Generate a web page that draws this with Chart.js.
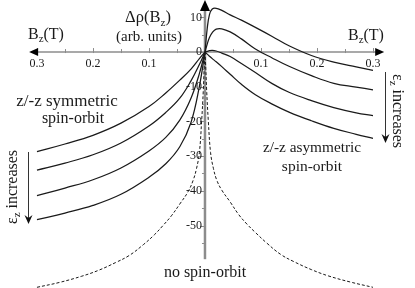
<!DOCTYPE html>
<html>
<head>
<meta charset="utf-8">
<script src="https://cdn.jsdelivr.net/npm/chart.js@4.4.1/dist/chart.umd.min.js"></script>
<style>
  html, body { margin: 0; padding: 0; background: #fff; }
  #wrap { width: 415px; height: 288px; }
</style>
</head>
<body>
<div id="wrap"><canvas id="chart" width="415" height="288"></canvas></div>
<script>
// B_z (T): left half plotted at negative x, labelled with |B|
// z/-z symmetric spin-orbit (left family)
const symB = [-0.3, -0.25, -0.2, -0.15, -0.1, -0.07, -0.045, -0.025, -0.01, 0];
const sym1 = [-28.7, -26.5, -24.0, -20.5, -15.7, -11.8, -8.1, -4.9, -1.9, 0];
const sym2 = [-34.0, -32.0, -29.6, -26.2, -21.3, -17.4, -13.3, -8.3, -3.6, 0];
const sym3 = [-41.4, -39.2, -36.8, -33.4, -28.5, -24.6, -19.6, -13.3, -6.2, 0];
const sym4 = [-48.3, -46.4, -44.2, -41.0, -36.1, -32.2, -27.3, -20.3, -9.9, 0];

// z/-z asymmetric spin-orbit (right family)
const asymB = [0, 0.004, 0.008, 0.013, 0.02, 0.03, 0.045, 0.065, 0.09, 0.12, 0.15, 0.19, 0.23, 0.27, 0.3];
const asym1 = [0, 6.8, 10.8, 12.4, 12.6, 12.0, 10.7, 9.2, 7.1, 4.5, 1.8, -1.0, -2.9, -4.3, -5.3];
const asym2 = [0, 2.3, 4.2, 5.6, 6.6, 6.7, 5.8, 3.8, 0.9, -1.7, -4.1, -6.8, -9.0, -10.1, -10.9];
const asym3 = [0, 0.2, 0.4, 0.5, 0.3, -0.3, -1.3, -3.3, -5.9, -9.1, -11.6, -14.0, -16.0, -17.5, -18.3];
const asym4 = [0, -0.6, -1.2, -1.9, -2.8, -4.2, -6.4, -9.3, -12.3, -15.0, -17.3, -19.8, -22.0, -23.7, -24.9];

// no spin-orbit (dashed)
const noSoLeftB = [-0.3, -0.26, -0.22, -0.19, -0.16, -0.135, -0.11, -0.09, -0.075, -0.06, -0.045, -0.03, -0.021, -0.015, -0.01, -0.006, -0.003, -0.0015, 0];
const noSoLeft  = [-67.8, -66.4, -64.6, -62.9, -60.7, -58.6, -55.5, -52.6, -50.0, -47.2, -43.8, -40.2, -36.9, -33.5, -29, -20, -11, -5, 0];
const noSoRightB = [0, 0.0015, 0.003, 0.006, 0.01, 0.015, 0.021, 0.03, 0.045, 0.06, 0.075, 0.09, 0.11, 0.135, 0.16, 0.19, 0.22, 0.26, 0.3];
const noSoRight  = [0, -5, -11, -20, -29, -33.5, -36.9, -39.8, -43.2, -46.8, -49.6, -52.0, -55.0, -58.3, -60.5, -62.7, -64.5, -66.3, -67.8];

// ticks
const xMajor = [-0.3, -0.2, -0.1, 0.1, 0.2, 0.3];
const xMinor = [-0.25, -0.15, -0.05, 0.05, 0.15, 0.25];
const xTickLabels = ['0.3', '0.2', '0.1', '0.1', '0.2', '0.3'];
const yMajor = [10, 0, -10, -20, -30, -40, -50];
const yMinor = [5, -5, -15, -25, -35, -45, -55];
const yTickLabels = ['10', '0', '-10', '-20', '-30', '-40', '-50'];

const FONT = "'Liberation Serif', 'Times New Roman', serif";
const INK = '#1a1a1a';
const AXIS = '#8c8c8c';

const pts = (bs, vs) => bs.map((b, i) => ({ x: b, y: vs[i] }));

function solid(bs, vs) {
  return { data: pts(bs, vs), borderColor: INK, borderWidth: 1.25, pointRadius: 0,
           tension: 0.4, fill: false };
}
function dashed(bs, vs) {
  return { data: pts(bs, vs), borderColor: INK, borderWidth: 1, borderDash: [3, 2],
           pointRadius: 0, tension: 0.4, fill: false };
}

// text with subscripts: parts = [[text, isSub], ...]
function rich(ctx, parts, x, y, size, align) {
  let w = 0;
  parts.forEach(p => {
    ctx.font = (p[1] ? size * 0.68 : size) + 'px ' + FONT;
    w += ctx.measureText(p[0]).width;
  });
  let cx = align === 'center' ? x - w / 2 : (align === 'right' ? x - w : x);
  ctx.textAlign = 'left';
  ctx.textBaseline = 'middle';
  parts.forEach(p => {
    const s = p[1] ? size * 0.68 : size;
    ctx.font = s + 'px ' + FONT;
    ctx.fillText(p[0], cx, y + (p[1] ? size * 0.28 : 0));
    cx += ctx.measureText(p[0]).width;
  });
}

function arrowDown(ctx, x, y0, y1) {
  ctx.strokeStyle = '#333';
  ctx.lineWidth = 1;
  ctx.beginPath(); ctx.moveTo(x, y0); ctx.lineTo(x, y1 - 4); ctx.stroke();
  ctx.fillStyle = '#111';
  ctx.beginPath();
  ctx.moveTo(x, y1); ctx.lineTo(x - 4, y1 - 9); ctx.lineTo(x, y1 - 6); ctx.lineTo(x + 4, y1 - 9);
  ctx.closePath(); ctx.fill();
}

const axesPlugin = {
  id: 'centerAxes',
  beforeDatasetsDraw(chart) {
    const ctx = chart.ctx;
    const xs = chart.scales.x, ys = chart.scales.y;
    const x0 = xs.getPixelForValue(0), y0 = ys.getPixelForValue(0);
    ctx.save();

    // x axis
    ctx.strokeStyle = AXIS;
    ctx.lineWidth = 1.5;
    ctx.beginPath();
    ctx.moveTo(xs.getPixelForValue(-0.31), y0);
    ctx.lineTo(xs.getPixelForValue(0.316), y0);
    ctx.stroke();
    ctx.lineWidth = 1;
    xMajor.forEach(v => {
      const px = Math.round(xs.getPixelForValue(v)) + 0.5;
      ctx.beginPath(); ctx.moveTo(px, y0 - 4); ctx.lineTo(px, y0 + 1); ctx.stroke();
    });
    xMinor.forEach(v => {
      const px = Math.round(xs.getPixelForValue(v)) + 0.5;
      ctx.beginPath(); ctx.moveTo(px, y0 - 3); ctx.lineTo(px, y0 + 1); ctx.stroke();
    });

    // y axis
    ctx.lineWidth = 2.5;
    ctx.beginPath();
    ctx.moveTo(x0, ys.getPixelForValue(13));
    ctx.lineTo(x0, ys.getPixelForValue(-59.7));
    ctx.stroke();
    ctx.lineWidth = 1;
    yMajor.forEach(v => {
      const py = Math.round(ys.getPixelForValue(v)) + 0.5;
      ctx.beginPath(); ctx.moveTo(x0 - 5, py); ctx.lineTo(x0, py); ctx.stroke();
    });
    yMinor.forEach(v => {
      const py = Math.round(ys.getPixelForValue(v)) + 0.5;
      ctx.beginPath(); ctx.moveTo(x0 - 3, py); ctx.lineTo(x0, py); ctx.stroke();
    });

    // arrowheads on x axis
    ctx.fillStyle = '#000';
    const xl = xs.getPixelForValue(-0.314), xr = xs.getPixelForValue(0.32);
    ctx.beginPath(); ctx.moveTo(xl, y0); ctx.lineTo(xl + 9, y0 - 4); ctx.lineTo(xl + 9, y0 + 4); ctx.closePath(); ctx.fill();
    ctx.beginPath(); ctx.moveTo(xr, y0); ctx.lineTo(xr - 9, y0 - 4); ctx.lineTo(xr - 9, y0 + 4); ctx.closePath(); ctx.fill();

    // tick labels
    ctx.fillStyle = INK;
    xMajor.forEach((v, i) => rich(ctx, [[xTickLabels[i]]], xs.getPixelForValue(v), y0 + 12, 12, 'center'));
    yMajor.forEach((v, i) => rich(ctx, [[yTickLabels[i]]], x0 - 3, ys.getPixelForValue(v), 12, 'right'));

    // axis titles
    rich(ctx, [['Δρ(B'], ['z', true], [')']], 148, 18, 16.5, 'center');
    rich(ctx, [['(arb. units)']], 149, 37, 15, 'center');
    rich(ctx, [['B'], ['z', true], ['(T)']], 28, 35, 16, 'left');
    rich(ctx, [['B'], ['z', true], ['(T)']], 348, 36, 16, 'left');

    // family labels
    rich(ctx, [['z/-z symmetric']], 67, 102, 17, 'center');
    rich(ctx, [['spin-orbit']], 73, 119, 16, 'center');
    rich(ctx, [['z/-z asymmetric']], 312, 148, 15.3, 'center');
    rich(ctx, [['spin-orbit']], 312, 167, 15.5, 'center');
    rich(ctx, [['no spin-orbit']], 205, 273, 16, 'center');

    // epsilon_z increases, left (reads upward) and right (reads downward)
    ctx.save();
    ctx.translate(13, 187);
    ctx.rotate(-Math.PI / 2);
    rich(ctx, [['ε'], ['z', true], [' increases']], 0, 0, 16, 'center');
    ctx.restore();
    ctx.save();
    ctx.translate(397, 111);
    ctx.rotate(Math.PI / 2);
    rich(ctx, [['ε'], ['z', true], [' increases']], 0, 0, 16, 'center');
    ctx.restore();

    arrowDown(ctx, 28.5, 152, 224);
    arrowDown(ctx, 385.5, 72, 143);
    ctx.restore();
  },
  afterDatasetsDraw(chart) {
    const ctx = chart.ctx;
    const x0 = chart.scales.x.getPixelForValue(0);
    const yt = chart.scales.y.getPixelForValue(15);
    ctx.save();
    ctx.fillStyle = '#000';
    ctx.beginPath();
    ctx.moveTo(x0, yt); ctx.lineTo(x0 - 5, yt + 11); ctx.lineTo(x0 + 5, yt + 11);
    ctx.closePath(); ctx.fill();
    ctx.restore();
  }
};

new Chart(document.getElementById('chart'), {
  type: 'line',
  data: {
    datasets: [
      solid(symB, sym1), solid(symB, sym2), solid(symB, sym3), solid(symB, sym4),
      solid(asymB, asym1), solid(asymB, asym2), solid(asymB, asym3), solid(asymB, asym4),
      dashed(noSoLeftB, noSoLeft), dashed(noSoRightB, noSoRight)
    ]
  },
  options: {
    responsive: false,
    animation: false,
    layout: { padding: 0 },
    plugins: { legend: { display: false }, tooltip: { enabled: false } },
    scales: {
      x: { type: 'linear', min: -0.366, max: 0.375, display: false },
      y: { type: 'linear', min: -68, max: 15, display: false }
    }
  },
  plugins: [axesPlugin]
});
</script>
</body>
</html>
